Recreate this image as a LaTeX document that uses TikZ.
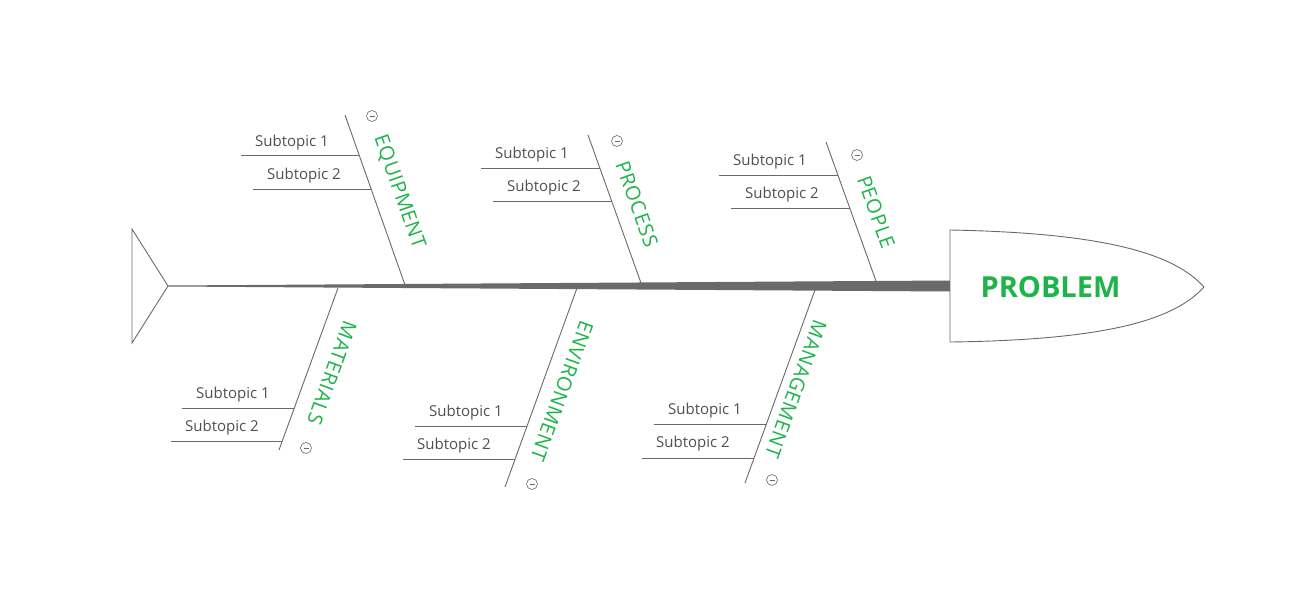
\documentclass[tikz,border=0pt]{standalone}
\usepackage{fontspec}
\setmainfont{Open Sans}
\newfontfamily\catfont[LetterSpace=3]{Open Sans}
\definecolor{fishgreen}{HTML}{1EB44A}
\definecolor{boneline}{HTML}{6A6A6A}
\definecolor{subgray}{HTML}{505050}
\tikzset{
  bone/.style={draw=boneline, line width=0.9pt},
  subline/.style={draw=boneline, line width=0.9pt},
  subtext/.style={anchor=base, text=subgray, font=\fontsize{15}{18}\selectfont, inner sep=0pt},
  cat/.style={text=fishgreen, font=\catfont\fontsize{20}{23}\selectfont, inner sep=0pt},
  toggle/.style={circle, draw=boneline, line width=0.6pt, minimum size=11pt, inner sep=0pt,
    path picture={\draw[boneline, line width=0.7pt] ([xshift=-2.5pt]path picture bounding box.center) -- ([xshift=2.5pt]path picture bounding box.center);}}
}
\begin{document}
\begin{tikzpicture}[x=1pt,y=-1pt]
  \useasboundingbox[fill=white] (0,0) rectangle (1304,600);
  % tail and spine
  \coordinate (tail top) at (132,229);
  \coordinate (tail mid) at (168,286);
  \coordinate (tail bot) at (132,343);
  \draw[bone] (tail top) -- (tail mid) -- (tail bot) -- cycle;
  \fill[boneline] (168,285.5) -- (950,280.5) -- (950,291.5) -- (168,286.5) -- cycle;
  % head
  \coordinate (head top) at (950,230);
  \coordinate (head tip) at (1204,287);
  \coordinate (head bot) at (950,342);
  \draw[bone, fill=white] (head top) .. controls (1110,233) and (1175,255) .. (head tip)
    .. controls (1175,319) and (1110,340) .. (head bot) -- cycle;
  \node[text=fishgreen, font=\fontsize{29}{32}\selectfont\bfseries] (problem) at (1050.5,287) {PROBLEM};

  % equipment
  \coordinate (eq top) at (345,115);
  \coordinate (eq bot) at (405,285);
  \draw[bone] (eq top) -- (eq bot);
  \coordinate (eq a1) at (241,155); \coordinate (eq a2) at (359.1,155);
  \coordinate (eq b1) at (253,189); \coordinate (eq b2) at (371.1,189);
  \draw[subline] (eq a1) -- (eq a2);
  \draw[subline] (eq b1) -- (eq b2);
  \node[subtext] (eq s1) at (292,146) {Subtopic 1};
  \node[subtext] (eq s2) at (304,179) {Subtopic 2};
  \node[toggle] (eq t) at (372,116) {};
  \node[cat, rotate=-70.6] (eq l) at (399,192) {EQUIPMENT};

  % process
  \coordinate (pr top) at (588,135);
  \coordinate (pr bot) at (641,283);
  \draw[bone] (pr top) -- (pr bot);
  \coordinate (pr a1) at (481,168); \coordinate (pr a2) at (599.8,168);
  \coordinate (pr b1) at (493,201); \coordinate (pr b2) at (611.6,201);
  \draw[subline] (pr a1) -- (pr a2);
  \draw[subline] (pr b1) -- (pr b2);
  \node[subtext] (pr s1) at (532,158) {Subtopic 1};
  \node[subtext] (pr s2) at (544,191) {Subtopic 2};
  \node[toggle] (pr t) at (617,141) {};
  \node[cat, rotate=-70.3] (pr l) at (637,204) {PROCESS};

  % people
  \coordinate (pe top) at (826,142);
  \coordinate (pe bot) at (876,281);
  \draw[bone] (pe top) -- (pe bot);
  \coordinate (pe a1) at (719,175); \coordinate (pe a2) at (837.9,175);
  \coordinate (pe b1) at (731,208); \coordinate (pe b2) at (849.7,208);
  \draw[subline] (pe a1) -- (pe a2);
  \draw[subline] (pe b1) -- (pe b2);
  \node[subtext] (pe s1) at (770,165) {Subtopic 1};
  \node[subtext] (pe s2) at (782,198) {Subtopic 2};
  \node[toggle] (pe t) at (857,155) {};
  \node[cat, rotate=-70.2] (pe l) at (876,212) {PEOPLE};

  % materials
  \coordinate (ma top) at (338,288);
  \coordinate (ma bot) at (279,450);
  \draw[bone] (ma top) -- (ma bot);
  \coordinate (ma a1) at (182,408); \coordinate (ma a2) at (294.3,408);
  \coordinate (ma b1) at (171,441); \coordinate (ma b2) at (282.3,441);
  \draw[subline] (ma a1) -- (ma a2);
  \draw[subline] (ma b1) -- (ma b2);
  \node[subtext] (ma s1) at (233,398) {Subtopic 1};
  \node[subtext] (ma s2) at (222,431) {Subtopic 2};
  \node[toggle] (ma t) at (306,448) {};
  \node[cat, rotate=-110] (ma l) at (332,373) {MATERIALS};

  % environment
  \coordinate (en top) at (577,288);
  \coordinate (en bot) at (505,487);
  \draw[bone] (en top) -- (en bot);
  \coordinate (en a1) at (415,426); \coordinate (en a2) at (527,426);
  \coordinate (en b1) at (403,459); \coordinate (en b2) at (515.1,459);
  \draw[subline] (en a1) -- (en a2);
  \draw[subline] (en b1) -- (en b2);
  \node[subtext] (en s1) at (466,416) {Subtopic 1};
  \node[subtext] (en s2) at (454,449) {Subtopic 2};
  \node[toggle] (en t) at (532,484) {};
  \node[cat, rotate=-110] (en l) at (562,391) {ENVIRONMENT};

  % management
  \coordinate (mg top) at (815,290);
  \coordinate (mg bot) at (745,483);
  \draw[bone] (mg top) -- (mg bot);
  \coordinate (mg a1) at (654,424); \coordinate (mg a2) at (766.4,424);
  \coordinate (mg b1) at (642,458); \coordinate (mg b2) at (754,458);
  \draw[subline] (mg a1) -- (mg a2);
  \draw[subline] (mg b1) -- (mg b2);
  \node[subtext] (mg s1) at (705,414) {Subtopic 1};
  \node[subtext] (mg s2) at (693,447) {Subtopic 2};
  \node[toggle] (mg t) at (772,480) {};
  \node[cat, rotate=-110] (mg l) at (796,389) {MANAGEMENT};
\end{tikzpicture}
\end{document}
